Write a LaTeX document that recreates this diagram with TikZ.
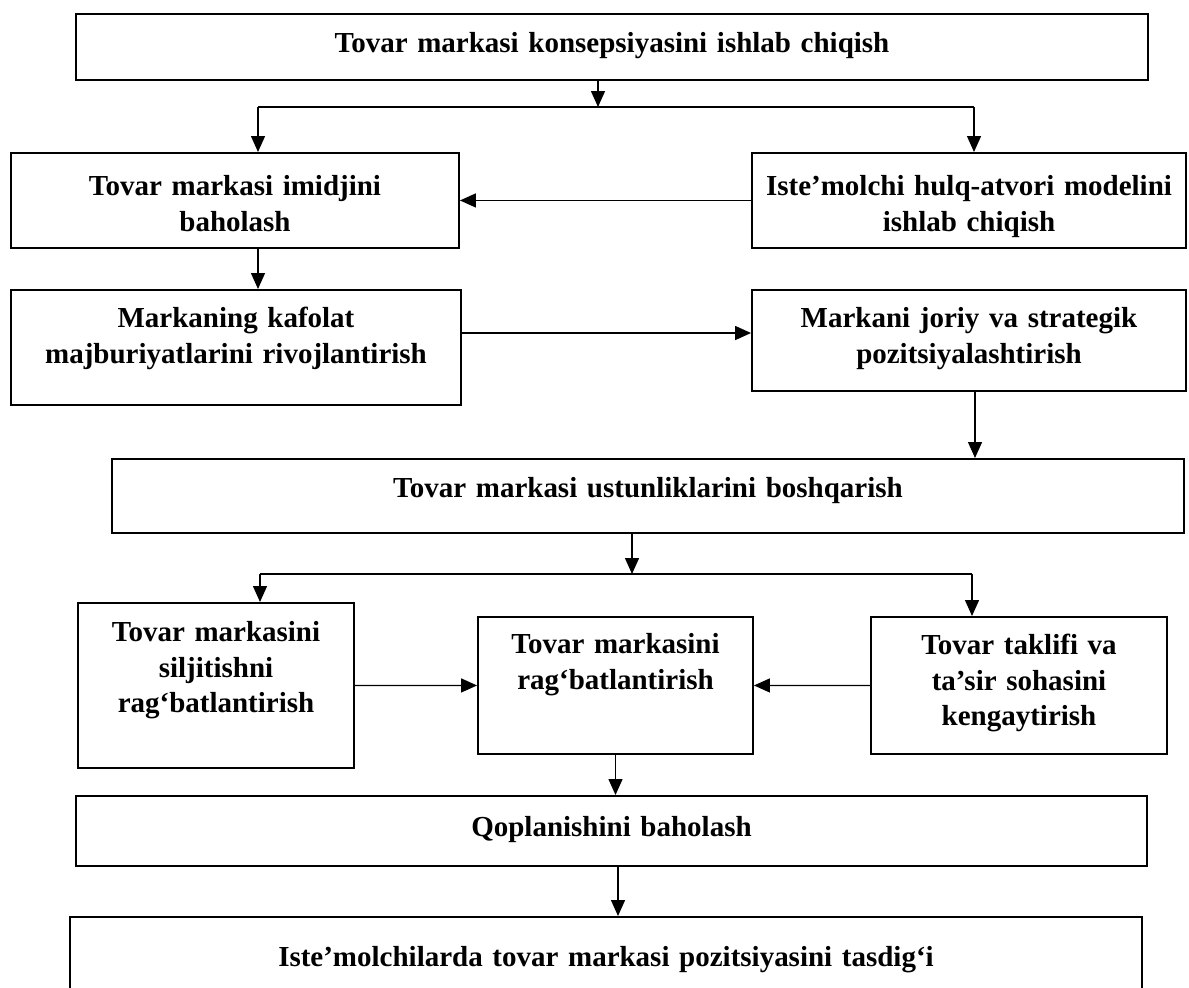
\documentclass[tikz,border=0pt]{standalone}
\usepackage{fontspec}
\setmainfont{Liberation Serif}
\usetikzlibrary{arrows.meta}

\begin{document}
\begin{tikzpicture}[x=0.02cm, y=-0.02cm,
  box/.style={draw, line width=1.1pt, anchor=north, align=center,
    inner xsep=0pt, inner ysep=0pt,
    font=\fontsize{16.5}{20}\selectfont\bfseries},
  link/.style={line width=0.8pt},
  arr/.style={link, -{Triangle[length=0.32cm, width=0.28cm]}}]

  \useasboundingbox (0,0) rectangle (1189,987);

  % Boxes, placed by the middle of their top edge
  \node[box, text width=21.44cm, text height=0.78cm, text depth=0.54cm] (concept) at (612,13)
    {Tovar markasi konsepsiyasini ishlab chiqish};
  \node[box, text width=8.96cm, text height=0.86cm, text depth=1.04cm] (imidj) at (235,152)
    {Tovar markasi imidjini\\baholash};
  \node[box, text width=8.68cm, text height=0.86cm, text depth=1.04cm] (model) at (969,152)
    {Iste’molchi hulq-atvori modelini\\ishlab chiqish};
  \node[box, text width=9cm, text height=0.76cm, text depth=1.54cm] (kafolat) at (236,289)
    {Markaning kafolat\\majburiyatlarini rivojlantirish};
  \node[box, text width=8.68cm, text height=0.76cm, text depth=1.26cm] (joriy) at (969,289)
    {Markani joriy va strategik\\pozitsiyalashtirish};
  \node[box, text width=21.44cm, text height=0.78cm, text depth=0.7cm] (ustun) at (648,458)
    {Tovar markasi ustunliklarini boshqarish};
  \node[box, text width=5.52cm, text height=0.78cm, text depth=2.52cm] (silj) at (216,602)
    {Tovar markasini\\siljitishni\\rag‘batlantirish};
  \node[box, text width=5.5cm, text height=0.74cm, text depth=2cm] (ragb) at (615.5,616)
    {Tovar markasini\\rag‘batlantirish};
  \node[box, text width=5.92cm, text height=0.76cm, text depth=1.98cm] (takl) at (1019,616)
    {Tovar taklifi va\\ta’sir sohasini\\kengaytirish};
  \node[box, text width=21.42cm, text height=0.82cm, text depth=0.58cm] (qopl) at (611.5,795)
    {Qoplanishini baholash};
  \node[box, text width=21.44cm, text height=1cm, text depth=0.68cm] (tasdiq) at (606,916)
    {Iste’molchilarda tovar markasi pozitsiyasini tasdig‘i};

  % Connectors
  \coordinate (fa) at (598,107);
  \coordinate (fal) at (258,107);
  \coordinate (far) at (974,107);
  \draw[arr] (concept.south -| fa) -- (fa);
  \draw[link] (fal) -- (far);
  \draw[arr] (fal) -- (fal |- imidj.north);
  \draw[arr] (far) -- (far |- model.north);
  \draw[arr] (model.west) -- (imidj.east);
  \draw[arr] (imidj.south -| fal) -- (kafolat.north -| fal);

  \coordinate (h1) at (0,333);
  \draw[arr] (kafolat.east |- h1) -- (joriy.west |- h1);
  \coordinate (v1) at (975,0);
  \draw[arr] (joriy.south -| v1) -- (ustun.north -| v1);

  \coordinate (fb) at (632,574);
  \coordinate (fbl) at (260,574);
  \coordinate (fbr) at (972,574);
  \draw[arr] (ustun.south -| fb) -- (fb);
  \draw[link] (fbl) -- (fbr);
  \draw[arr] (fbl) -- (fbl |- silj.north);
  \draw[arr] (fbr) -- (fbr |- takl.north);
  \draw[arr] (silj.east) -- (ragb.west);
  \draw[arr] (takl.west) -- (ragb.east);
  \draw[arr] (ragb.south) -- (ragb.south |- qopl.north);

  \coordinate (v2) at (618,0);
  \draw[arr] (qopl.south -| v2) -- (tasdiq.north -| v2);

\end{tikzpicture}
\end{document}
